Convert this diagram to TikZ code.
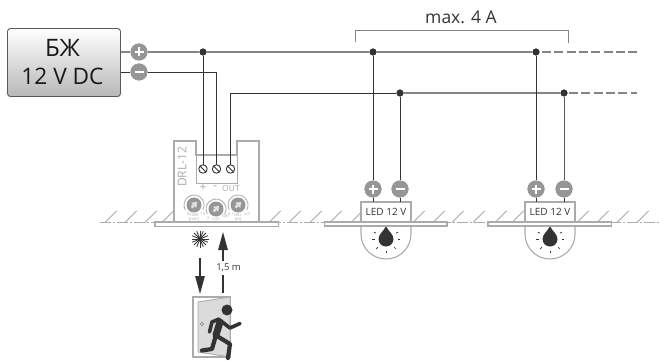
\documentclass[tikz,border=0pt]{standalone}
\usepackage{fontspec}
\setmainfont{Open Sans}
\usetikzlibrary{arrows.meta,shapes.geometric,calc}
\definecolor{wg}{HTML}{858585}
\definecolor{wd}{HTML}{333333}
\definecolor{wm}{HTML}{5A5A5A}
\definecolor{lg}{HTML}{ABABAB}
\definecolor{kn}{HTML}{969696}
\tikzset{
  wire/.style={line width=.9pt,draw=wd},
  wireg/.style={line width=1.4pt,draw=wg},
  dashedwire/.style={line width=1.6pt,draw=wg,dash pattern=on 9pt off 3.3pt},
  pol/.style={circle,fill=kn,draw=none,minimum size=17pt,inner sep=0pt},
  dot/.style={circle,fill=wd,draw=none,minimum size=7pt,inner sep=0pt},
  termhit/.style={circle,draw=none,fill=none,minimum size=8.5pt,inner sep=0pt},
  body/.style={draw=lg,line width=1.1pt,fill=white},
  hatch/.style={draw=lg,line width=.8pt},
  bigarrow/.style={line width=1.3pt,draw=wd,-{Triangle[length=18pt,width=9.5pt]}},
  lbl/.style={inner sep=0pt,text=wd},
  knob/.style={circle,fill=kn,draw=none,minimum size=15pt,inner sep=0pt},
  tiny/.style={inner sep=0pt,text=lg,font=\fontsize{4}{4}\selectfont}
}
\newcommand{\ledunit}[1]{%
  \begin{scope}[xshift=#1pt]
  \draw[body] (361,226) -- (361,234) arc[start angle=180,end angle=0,radius=25] -- (411,226);
  \fill[wd] (386,226) .. controls (384,231) and (378.5,234) .. (378.5,239) arc[start angle=180,end angle=0,radius=7.5] .. controls (393.5,234) and (388,231) .. (386,226);
  \foreach \a in {-150,180,135,90,45,0,-30}{
    \draw[wd,line width=.7pt] ($(386,239)+(\a:11.5)$) -- ($(386,239)+(\a:14)$);}
  \end{scope}}
\begin{document}
\begin{tikzpicture}[x=1pt,y=-1pt]
\useasboundingbox (0,0) rectangle (659,361);
\fill[white] (0,0) rectangle (659,361);
% floor
\draw[lg,line width=.8pt,dash pattern=on 11pt off 2pt on 2pt off 2pt] (100,222.5) -- (659,222.5);
\foreach \x in {105,125,145,162,269,289,310,330,351,413,433,452,473,495,512,577,597,617,637}
  \draw[hatch] (\x,222.5) -- (\x+11.5,211);
% PSU
\node[rounded corners=3pt,draw=wm,line width=.9pt,top color=white,bottom color=black!28,minimum width=113pt,minimum height=68pt,inner sep=0pt] (psu) at (64,62.5) {};
\node[lbl,text=black!90,font=\fontsize{24}{24}\selectfont] (t1) at (62.5,47.5) {БЖ};
\node[lbl,text=black!90,font=\fontsize{22.7}{23}\selectfont] (t2) at (62.5,76.5) {12 V DC};
% device
\draw[body] (174,141) -- (196,141) -- (196,155) -- (237,155) -- (237,141) -- (259,141) -- (259,222) -- (174,222) -- cycle;
\draw[lg,line width=.9pt] (196,155) -- (196,183) -- (237,183) -- (237,155);
\node[lbl,text=lg,rotate=90,font=\fontsize{12}{12}\selectfont] (drl) at (182,167) {DRL-12};
\node[lbl,text=lg,font=\fontsize{12}{12}\selectfont] (tp) at (203,188) {+};
\node[lbl,text=lg,font=\fontsize{12}{12}\selectfont] (tm) at (215,188) {-};
\node[lbl,text=lg,font=\fontsize{8.5}{8.5}\selectfont] (to) at (231,188) {OUT};
% knobs
\node[knob] (k1) at (194,205) {};
\node[knob] (k2) at (216,209) {};
\node[knob] (k3) at (238,205) {};
\foreach \c in {k1,k2,k3}{
  \draw[lg,line width=.8pt] ($(\c)+(150:10)$) arc[start angle=150,end angle=390,radius=10];
  \draw[black!12,line width=2.6pt,-{Triangle[length=5pt,width=7pt]}] ($(\c)+(135:3.5)$) -- ($(\c)+(-45:4.5)$);
}
\node[tiny] at (188,214.5) {0};
\node[tiny] at (194,215) {TIME};
\node[tiny] at (194,219) {[min]};
\node[tiny] at (203,214.5) {10};
\node[tiny] at (208,218.5) {3};
\node[tiny] at (216,219.5) {LUX};
\node[tiny] at (225,216) {300};
\node[tiny] at (231,214.5) {0.1};
\node[tiny] at (238,215) {DEL};
\node[tiny] at (238,219) {[m]};
\node[tiny] at (247,214.5) {2.0};
% wires
\coordinate (psuP) at (121,52);
\coordinate (psuM) at (121,72);
\coordinate (endPd) at (637,52);
\coordinate (endMd) at (637,93);
\node[termhit] (T1) at (203,169) {};
\node[termhit] (T2) at (216.5,169) {};
\node[termhit] (T3) at (230.5,169) {};
\node[pol] (pp) at (139,52) {};
\node[pol] (pm) at (139,72) {};
\node[dot] (j0) at (203,52) {};
\node[dot] (j1) at (373,52) {};
\node[dot] (j2) at (536,52) {};
\node[dot] (j3) at (400,93) {};
\node[dot] (j4) at (564,93) {};
\node[pol] (a1) at (373,189) {};
\node[pol] (b1) at (400,189) {};
\node[pol] (a2) at (536,189) {};
\node[pol] (b2) at (564,189) {};
\draw[wireg] (psuP) -- (pp);
\draw[wire] (psuM) -- (pm);
\draw[wireg] (pp) -- (j0) -- (j1) -- (j2);
\draw[dashedwire] ($(j2.center)+(6,0)$) -- (endPd);
\draw[wire] (pm) -- (216.5,72) -- (T2.center);
\draw[wire] (j0) -- (T1.center);
\draw[wire] (T3.center) -- (230.5,93) -- (j3);
\draw[wireg,line width=1.2pt] (j3) -- (j4);
\draw[dashedwire] ($(j4.center)+(5,0)$) -- (endMd);
\draw[wire] (j1) -- (a1);
\draw[wire] (j3) -- (b1);
\draw[wire] (j2) -- (a2);
\draw[wire,draw=wm] (j4) -- (b2);
\foreach \n in {j0,j1,j2,j3,j4}{\fill[wd] (\n) circle (3.5);}
\foreach \n in {pp,pm,a1,b1,a2,b2}{\fill[kn] (\n) circle (8.5);}
\foreach \n in {pp,a1,a2}{\draw[white,line width=2.2pt] ($(\n)+(-4.5,0)$)--($(\n)+(4.5,0)$) ($(\n)+(0,-4.5)$)--($(\n)+(0,4.5)$);}
\foreach \n in {pm,b1,b2}{\draw[white,line width=2.2pt] ($(\n)+(-4.5,0)$)--($(\n)+(4.5,0)$);}
% terminals
\foreach \n in {T1,T2,T3}{
  \draw[wd,line width=.9pt,fill=white] (\n) circle (4.2);
  \draw[wd,line width=1pt] ($(\n)+(-3,-3)$) -- ($(\n)+(3,3)$);}
% plate
\draw[body] (155,222) rectangle (278.5,226.5);
% LEDs
\ledunit{0}
\ledunit{164}
\draw[body] (361,202) rectangle (411,222);
\draw[body] (525,202) rectangle (575,222);
\draw[wd,line width=.9pt] (a1) -- (373,202);
\draw[wd,line width=.9pt] (b1) -- (400,202);
\draw[wd,line width=.9pt] (a2) -- (536,202);
\draw[wd,line width=.9pt] (b2) -- (564,202);
\node[lbl,font=\fontsize{10}{10}\selectfont] (l1) at (386,212) {LED 12 V};
\node[lbl,font=\fontsize{10}{10}\selectfont] (l2) at (550,212) {LED 12 V};
\draw[body] (324.5,222) rectangle (447,226);
\draw[body] (488,222) rectangle (611.5,226);
% bracket
\draw[wg,line width=.9pt] (355,42) -- (355,30.5) -- (568,30.5) -- (568,43);
\node[lbl,font=\fontsize{17.5}{18}\selectfont] (mx) at (461,17) {max. 4 A};
% sensor
\foreach \a in {0,22.5,...,337.5}
  \draw[wd,line width=.8pt] (200,239) -- ++(\a:8.5);
\fill[wd] (200,239) circle (2.5);
\coordinate (s1) at (200,258);
\coordinate (s2) at (200,294);
\coordinate (u2) at (223,232);
\coordinate (u3) at (223,293);
\draw[bigarrow] (s1) -- (s2);
\node[lbl,font=\fontsize{9.5}{9.5}\selectfont] (h) at (228.5,268) {1,5 m};
\draw[bigarrow] (223,261) -- (u2);
\draw[wd,line width=1.3pt] (u3) -- (223,275);
% door
\draw[draw=lg,line width=1.1pt,fill=white] (193,297) rectangle (230,357);
\draw[draw=lg,line width=.9pt,fill=black!14] (198,302) -- (230,297) -- (230,357) -- (198,352) -- cycle;
\draw[wg,fill=white,line width=.6pt] (202,324) circle (1.6);
% runner
\fill[wd] (227,310) circle (5.5);
\begin{scope}[wd,line cap=round,line join=round]
\draw[line width=7pt] (220,322) -- (216,335);
\draw[line width=3.6pt] (219,319) -- (212,322) -- (209.5,332);
\draw[line width=3.6pt] (221,321) -- (230,328) -- (240,323.5);
\draw[line width=4.2pt] (216,335) -- (212,349) -- (202,350.5);
\draw[line width=4.2pt] (217,336) -- (230,344) -- (228,358);
\end{scope}
\end{tikzpicture}
\end{document}
